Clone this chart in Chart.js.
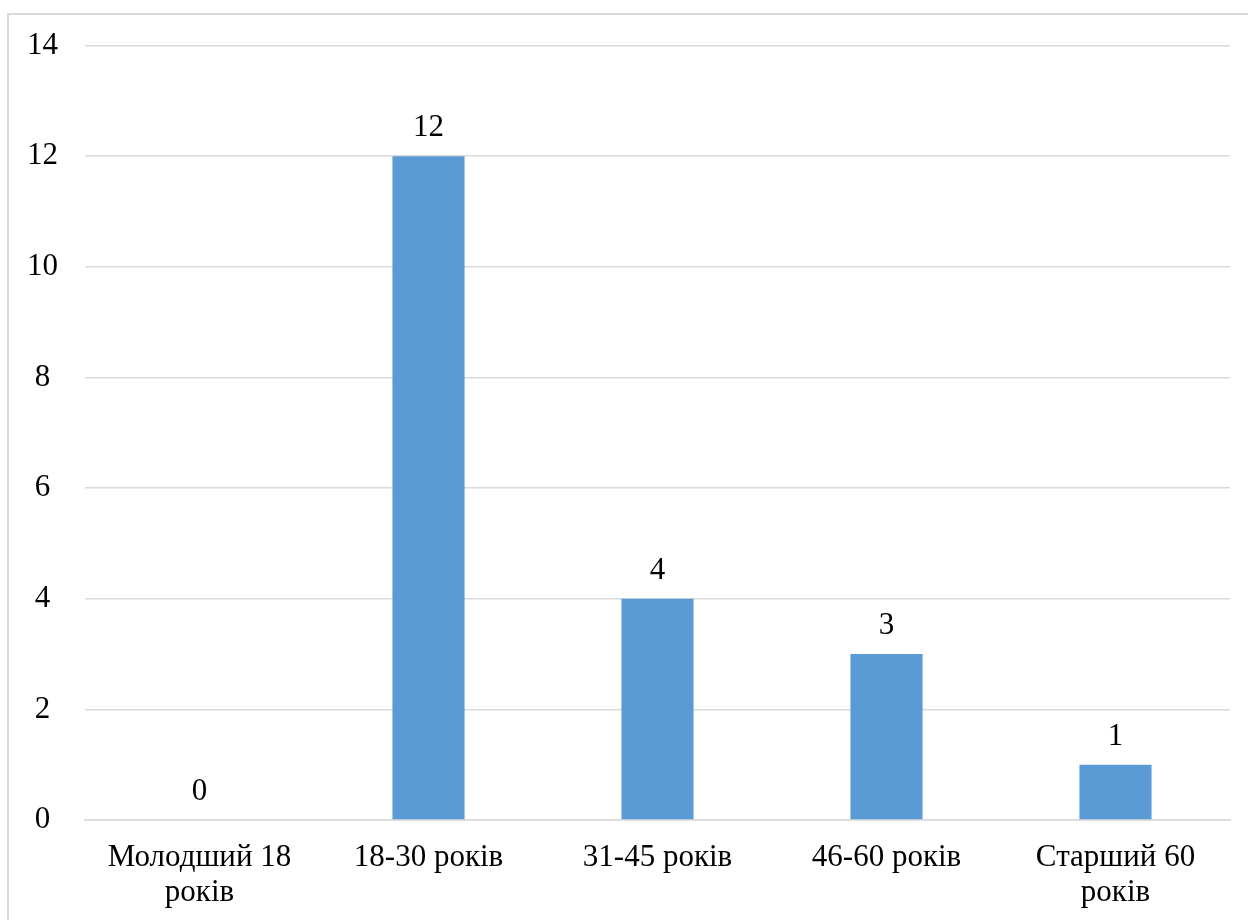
<!DOCTYPE html>
<html>
<head>
<meta charset="utf-8">
<script src="https://cdn.jsdelivr.net/npm/chart.js@4/dist/chart.umd.min.js"></script>
<style>
  html, body { margin: 0; padding: 0; background: #ffffff; }
  #wrap { width: 1248px; height: 920px; position: relative; }
</style>
</head>
<body>
<div id="wrap"><canvas id="chart" width="1248" height="920"></canvas></div>
<script>
// Age groups and respondent counts
const categories = [
  ['Молодший 18', 'років'],
  ['18-30 років'],
  ['31-45 років'],
  ['46-60 років'],
  ['Старший 60', 'років']
];
const counts = [0, 12, 4, 3, 1];
const yTicks = [0, 2, 4, 6, 8, 10, 12, 14];

const FONT = 'Liberation Serif, "Times New Roman", serif';
const FONT_SIZE = 31;

// Thin frame around the whole figure
const framePlugin = {
  id: 'frame',
  beforeDraw(chart) {
    const ctx = chart.ctx;
    ctx.save();
    ctx.strokeStyle = '#d9d9d9';
    ctx.lineWidth = 2;
    ctx.strokeRect(8, 14, 1400, 1000);
    ctx.restore();
  }
};

// Value labels above each bar
const valueLabels = {
  id: 'valueLabels',
  afterDatasetsDraw(chart) {
    const ctx = chart.ctx;
    const meta = chart.getDatasetMeta(0);
    ctx.save();
    ctx.font = FONT_SIZE + 'px ' + FONT;
    ctx.fillStyle = '#000000';
    ctx.textAlign = 'center';
    ctx.textBaseline = 'middle';
    meta.data.forEach((bar, i) => {
      ctx.fillText(String(counts[i]), bar.x, bar.y - 28);
    });
    ctx.restore();
  }
};

new Chart(document.getElementById('chart'), {
  type: 'bar',
  data: {
    labels: categories,
    datasets: [{
      data: counts,
      backgroundColor: '#5b9bd5',
      borderWidth: 0,
      categoryPercentage: 1,
      barPercentage: 0.315
    }]
  },
  options: {
    responsive: false,
    animation: false,
    layout: { padding: { top: 44, right: 18, left: 0, bottom: 0 } },
    plugins: {
      legend: { display: false },
      tooltip: { enabled: false }
    },
    scales: {
      x: {
        grid: { display: false, drawTicks: false },
        border: { display: true, color: '#d9d9d9', width: 1.5 },
        ticks: {
          color: '#000000',
          font: { family: FONT, size: FONT_SIZE, lineHeight: 1.13 },
          padding: 20,
          maxRotation: 0,
          autoSkip: false
        },
        afterFit(scale) { scale.height = 100; }
      },
      y: {
        min: 0,
        max: 14,
        afterBuildTicks(scale) { scale.ticks = yTicks.map(v => ({ value: v })); },
        grid: { color: '#d9d9d9', lineWidth: 1.5, drawTicks: false },
        border: { display: false },
        ticks: {
          color: '#000000',
          font: { family: FONT, size: FONT_SIZE },
          padding: 27,
          crossAlign: 'center'
        },
        afterFit(scale) { scale.width = 85; }
      }
    }
  },
  plugins: [framePlugin, valueLabels]
});
</script>
</body>
</html>
